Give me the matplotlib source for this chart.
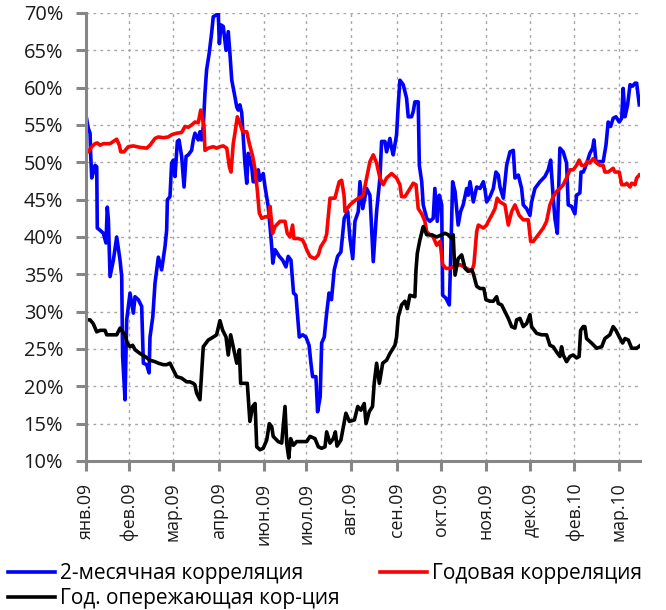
import matplotlib
matplotlib.use("Agg")
import matplotlib.pyplot as plt
from matplotlib.ticker import FuncFormatter

# ---------------- data (x = trading-day index) ----------------
tick_pos = [0, 23, 47, 72, 96, 119, 143, 168, 192, 216, 240, 264, 288]
tick_labels = ["янв.09", "фев.09", "мар.09", "апр.09", "июн.09", "июл.09", "авг.09",
               "сен.09", "окт.09", "ноя.09", "дек.09", "фев.10", "мар.10"]

blue_x = [0, 1.2, 2.2, 2.5, 3.1, 3.9, 4.9, 5.8, 6.1, 7.6, 9.4, 10.8, 11.5, 12.1, 13.0, 14.8,
          16.6, 18.4, 19.3, 19.8, 21.1, 22.0, 23.8, 25.6, 26.5, 28.3, 30.1, 31.0, 32.8, 34.1,
          34.6, 36.1, 37.3, 39.1, 40.9, 42.7, 43.6, 44.0, 45.4, 46.3, 47.2, 48.1, 49.4, 50.3,
          51.7, 53.0, 54.1, 55.3, 57.1, 58.0, 58.9, 60.7, 61.6, 62.5, 63.4, 64.3, 65.2, 66.6,
          67.9, 68.8, 70.3, 71.5, 72.1, 73.0, 74.2, 75.7, 76.9, 77.8, 78.8, 80.5, 81.5, 82.3,
          83.2, 84.2, 85.9, 86.9, 87.7, 89.6, 90.4, 92.3, 93.1, 94.1, 95.8, 96.8, 98.5, 99.5,
          100.4, 101.0, 102.2, 104.5, 106.3, 108.1, 109.3, 110.8, 112.2, 113.5, 115.3, 117.1,
          118.9, 120.6, 121.6, 122.5, 124.3, 125.2, 126.6, 127.4, 128.8, 130.1, 131.4, 132.7,
          134.2, 136.0, 137.8, 139.6, 141.5, 142.7, 144.2, 145.4, 147.2, 148.1, 149.6, 151.7,
          153.5, 155.3, 157.1, 158.9, 159.8, 161.6, 162.5, 164.3, 165.2, 166.1, 167.9, 168.8,
          169.7, 171.5, 173.3, 174.2, 176.0, 176.9, 177.8, 179.6, 180.2, 181.5, 182.3, 184.2,
          185.9, 187.7, 188.6, 189.9, 191.0, 192.3, 192.8, 194.6, 196.4, 197.1, 198.2, 199.5,
          201.2, 202.5, 203.9, 205.8, 206.6, 207.6, 209.4, 211.2, 213.0, 214.8, 215.7, 216.6,
          218.4, 220.2, 221.6, 222.9, 223.8, 225.6, 227.4, 229.2, 231.0, 231.9, 233.7, 235.5,
          236.4, 238.2, 240.0, 240.9, 242.7, 245.4, 248.1, 249.9, 251.2, 252.6, 253.5, 254.8,
          256.2, 258.0, 259.8, 260.7, 262.5, 264.3, 265.2, 267.0, 267.6, 268.8, 269.7, 271.0,
          272.4, 273.9, 274.6, 275.7, 277.8, 279.6, 281.1, 282.3, 283.6, 285.0, 286.5, 288.3,
          289.6, 290.4, 291.4, 292.8, 294.1, 295.5, 296.8, 297.7, 299.1]
blue_y = [56.3, 54.6, 53.9, 51.2, 47.9, 48.6, 49.6, 49.4, 41.2, 40.9, 40.5, 39.2, 44.0, 42.3, 34.7, 36.9,
          40.0, 36.9, 34.7, 24.0, 18.2, 28.9, 32.5, 29.8, 32.0, 31.6, 30.7, 23.1, 22.9, 21.8,
          26.6, 29.3, 33.8, 37.3, 35.6, 38.7, 40.9, 45.0, 45.4, 49.9, 50.3, 48.1, 52.8, 53.0,
          50.8, 46.7, 50.8, 51.0, 51.6, 53.0, 53.9, 53.0, 54.1, 53.0, 54.8, 59.2, 62.4, 64.6,
          67.3, 69.5, 69.7, 70.0, 65.9, 68.4, 68.2, 65.0, 67.5, 64.6, 61.0, 58.8, 57.4, 57.0,
          57.7, 56.6, 49.9, 47.2, 51.2, 49.4, 47.4, 47.4, 49.0, 47.6, 48.5, 46.7, 44.1, 41.4,
          38.7, 36.5, 38.3, 37.4, 36.9, 36.0, 37.4, 36.9, 32.5, 32.2, 26.6, 26.9,
          26.6, 25.5, 23.1, 21.3, 21.3, 16.6, 18.6, 25.8, 26.6, 29.8, 32.5, 31.6,
          35.6, 37.4, 38.0, 42.5, 43.4, 39.8, 37.1, 42.1, 43.4, 47.4, 43.8, 46.5,
          45.6, 36.7, 43.4, 47.9, 52.8, 52.8, 51.4, 53.2, 51.9, 51.0, 53.7, 57.7,
          61.0, 60.4, 58.6, 56.1, 56.1, 56.8, 58.1, 58.1, 49.6, 47.4, 44.3, 42.5,
          42.1, 42.5, 46.5, 42.1, 45.6, 44.3, 32.2, 31.8, 30.9, 36.7, 47.4, 46.1,
          41.6, 43.4, 44.3, 46.5, 45.6, 47.4, 44.7, 46.7, 46.5, 47.4, 46.3, 44.7,
          45.4, 46.5, 48.7, 48.3, 46.7, 45.2, 49.6, 51.4, 51.6, 47.9, 48.3, 46.5,
          44.3, 43.8, 42.9, 44.7, 46.5, 47.4, 48.1, 49.0, 50.3, 45.2, 42.5, 40.5,
          51.9, 51.4, 49.9, 44.3, 44.1, 43.1, 45.6, 45.9, 48.7, 48.7, 49.2, 50.1,
          51.2, 51.9, 53.0, 50.1, 50.1, 50.1, 52.3, 55.4, 54.8, 55.9, 56.1, 55.4,
          55.9, 59.9, 56.1, 57.7, 60.4, 60.2, 60.6, 60.6, 57.7]

red_x = [0, 1.2, 3.1, 4.9, 6.1, 7.6, 9.4, 11.2, 13.0, 14.8, 16.6, 18.0, 18.8, 20.5, 22.9, 25.6,
         29.2, 32.8, 34.6, 37.3, 39.1, 41.8, 44.5, 46.3, 49.0, 51.7, 53.5, 55.3, 57.1, 58.9,
         60.7, 62.0, 63.1, 63.8, 64.3, 66.1, 68.8, 70.6, 72.4, 74.2, 76.1, 77.5, 78.4, 79.6,
         80.5, 81.8, 83.2, 84.7, 86.9, 88.3, 90.1, 91.4, 92.6, 93.7, 95.0, 96.8, 98.5, 99.5,
         100.9, 102.2, 104.9, 107.6, 108.8, 110.3, 111.7, 112.4, 114.8, 117.1, 118.4, 119.3,
         121.1, 123.8, 125.6, 126.9, 129.2, 130.1, 131.9, 134.6, 135.5, 136.9, 138.2, 139.5,
         140.0, 142.7, 144.5, 147.2, 149.0, 149.9, 151.7, 153.5, 155.3, 157.1, 158.9, 160.7,
         162.5, 165.2, 167.9, 169.7, 170.6, 172.4, 174.2, 176.9, 178.4, 179.6, 181.5, 183.2,
         184.2, 185.9, 187.7, 189.6, 191.4, 192.8, 194.6, 196.8, 198.5, 202.2, 205.8, 208.5,
         209.7, 211.2, 212.1, 214.8, 216.6, 217.5, 219.3, 221.1, 222.3, 223.8, 226.5, 228.3,
         230.1, 231.9, 234.2, 236.4, 239.1, 240.4, 241.8, 244.5, 247.2, 249.0, 250.8, 252.6,
         254.4, 256.2, 258.0, 259.8, 261.6, 263.4, 265.2, 266.6, 267.9, 269.7, 271.0, 272.4,
         274.2, 276.1, 277.8, 279.6, 280.5, 282.3, 285.0, 285.9, 288.3, 289.6, 291.4, 292.3,
         294.1, 295.0, 296.8, 297.7, 299.1]
red_y = [51.6, 51.4, 52.1, 52.5, 52.6, 52.3, 52.5, 52.5, 52.5, 52.8, 53.1, 52.3, 51.4, 51.4, 52.1, 52.2,
         52.0, 51.9, 52.3, 53.2, 53.4, 53.3, 53.4, 53.7, 53.9, 54.0, 54.8, 54.7, 55.0, 55.4,
         55.3, 57.0, 55.7, 54.8, 51.6, 51.9, 52.1, 51.9, 52.1, 52.2, 51.9, 49.4, 48.7, 52.5,
         53.9, 56.1, 55.2, 54.1, 54.1, 52.5, 50.8, 49.0, 46.3, 43.2, 42.5, 42.7, 42.7, 44.1,
         40.5, 41.4, 42.1, 42.1, 40.5, 40.0, 41.6, 39.8, 39.8, 39.6, 38.9, 38.3,
         37.4, 37.1, 37.6, 38.7, 39.6, 40.4, 45.2, 45.2, 46.1, 47.4, 47.6, 45.6,
         43.4, 44.3, 44.7, 45.2, 45.4, 45.6, 47.9, 50.1, 51.0, 49.9, 47.9, 47.0,
         47.9, 48.5, 47.9, 47.0, 45.4, 45.4, 46.1, 47.2, 47.0, 43.8, 43.1, 42.1,
         40.7, 40.3, 40.0, 38.9, 39.4, 36.3, 35.8, 35.8, 36.0, 36.3, 35.8, 35.4,
         36.3, 40.7, 41.6, 41.2, 41.6, 42.1, 42.9, 43.8, 45.2, 44.7, 44.3, 41.6,
         43.4, 44.3, 42.9, 42.3, 42.3, 39.4, 39.4, 40.3, 41.2, 42.1, 44.3, 45.4,
         46.1, 46.5, 47.0, 47.9, 49.0, 49.0, 49.6, 50.3, 49.6, 49.6, 50.1, 49.9,
         50.5, 49.9, 49.6, 49.6, 48.7, 48.7, 49.2, 48.7, 48.7, 47.0, 47.0, 47.2,
         46.7, 47.2, 47.0, 47.9, 48.3]

black_x = [0, 2.2, 3.9, 5.8, 7.6, 10.3, 11.2, 13.9, 16.6, 18.4, 19.8, 21.1, 22.3, 23.8, 25.2, 26.5,
           29.2, 31.9, 34.6, 37.3, 39.1, 41.8, 43.6, 45.4, 47.2, 49.0, 51.7, 54.4, 56.2, 58.0,
           58.9, 59.8, 61.6, 62.5, 63.4, 66.1, 68.8, 70.6, 72.4, 73.9, 75.7, 76.9, 78.2, 79.6,
           81.5, 82.9, 83.6, 85.9, 87.2, 88.6, 90.1, 91.4, 92.3, 94.1, 95.8, 97.7, 99.1, 100.4,
           101.2, 103.9, 105.8, 107.6, 108.5, 109.6, 110.6, 112.1, 113.9, 119.3, 121.1, 123.8,
           125.6, 127.4, 129.2, 130.1, 131.9, 133.7, 134.8, 135.7, 137.8, 140.5, 142.4, 145.1,
           146.9, 148.6, 150.4, 151.4, 153.1, 154.9, 155.8, 157.1, 158.6, 160.4, 162.5, 164.3,
           167.0, 167.9, 168.8, 170.6, 172.4, 173.7, 175.1, 177.8, 178.4, 179.1, 180.5, 182.3,
           184.2, 186.9, 189.6, 192.3, 194.1, 195.8, 197.7, 198.5, 199.5, 201.2, 203.1, 204.9,
           206.6, 208.5, 209.4, 211.2, 213.0, 215.1, 216.2, 218.4, 220.2, 222.0, 222.9, 224.7,
           226.5, 228.3, 230.1, 231.9, 232.8, 234.6, 236.4, 238.2, 240.0, 240.9, 243.6, 246.3,
           249.0, 250.8, 252.6, 254.4, 256.2, 257.1, 258.0, 259.8, 261.6, 263.4, 265.2, 266.6,
           267.4, 268.8, 269.7, 270.6, 273.3, 276.1, 278.8, 280.5, 283.2, 285.0, 286.5, 288.3,
           290.1, 291.4, 293.2, 295.0, 297.7, 299.3]
black_y = [28.9, 28.9, 28.4, 27.3, 27.5, 27.5, 26.9, 26.9, 26.9, 27.8, 27.3, 26.9, 25.8, 25.3, 25.5, 24.9,
           24.4, 24.0, 23.5, 23.3, 23.1, 22.9, 22.9, 23.1, 22.2, 21.3, 21.1, 20.6, 20.6, 20.4,
           20.2, 19.1, 18.2, 21.7, 25.3, 26.2, 26.6, 26.9, 28.8, 27.5, 26.6, 24.2, 26.9, 25.3,
           23.1, 24.9, 20.4, 20.4, 20.4, 15.3, 17.3, 17.7, 11.9, 11.5, 11.7, 12.8, 15.0, 14.6,
           13.3, 12.6, 12.4, 17.3, 12.4, 10.4, 13.0, 12.1, 12.6, 12.6, 13.3, 13.0,
           11.9, 11.7, 11.9, 13.9, 12.4, 13.0, 13.9, 12.0, 12.8, 16.4, 15.3, 15.5,
           17.3, 16.8, 17.7, 15.0, 16.6, 17.3, 20.4, 23.1, 20.4, 23.1, 23.5, 24.4,
           25.5, 26.6, 29.3, 30.9, 31.4, 30.4, 32.2, 32.0, 35.6, 37.8, 39.6, 41.4,
           40.3, 40.3, 40.0, 40.3, 40.5, 40.3, 39.8, 40.3, 34.9, 37.1, 37.6, 35.8,
           35.4, 35.6, 35.1, 33.4, 33.1, 33.1, 31.6, 31.4, 31.4, 32.0, 31.1, 30.9,
           30.0, 29.1, 28.0, 27.8, 28.9, 29.1, 28.0, 28.4, 29.6, 28.0, 27.1, 26.9,
           26.9, 25.5, 25.3, 24.6, 24.0, 25.3, 24.2, 23.3, 24.0, 24.2, 23.8, 24.0,
           27.5, 28.0, 28.0, 26.4, 25.8, 25.1, 25.3, 26.4, 26.9, 28.0, 27.5, 26.6,
           25.8, 26.4, 26.2, 25.1, 25.1, 25.4]

labels = ["2-месячная корреляция", "Годовая корреляция", "Год. опережающая кор-ция"]

# ---------------- figure ----------------
plt.rcParams['font.family'] = ['Open Sans', 'DejaVu Sans']
fig = plt.figure(figsize=(6.66, 6.10), dpi=100)
ax = fig.add_axes([86/666, 1-461/610, (640-86)/666, (461-13)/610])

lw = 2.6
l1, = ax.plot(blue_x, blue_y, color='#0000FF', lw=lw, label=labels[0], solid_joinstyle='round')
l2, = ax.plot(red_x, red_y, color='#FF0000', lw=lw, label=labels[1], solid_joinstyle='round')
l3, = ax.plot(black_x, black_y, color='#000000', lw=lw, label=labels[2], solid_joinstyle='round')

ax.set_xlim(0, 299.5)
ax.set_ylim(10, 70)
ax.set_yticks(range(10, 71, 5))
ax.yaxis.set_major_formatter(FuncFormatter(lambda v, p: f"{int(v)}%"))
ax.set_xticks(tick_pos)
ax.set_xticklabels(tick_labels, rotation=90)

ax.grid(True, color='#A6A6A6', linestyle=(0, (2, 3)), linewidth=1.0)
ax.set_axisbelow(True)
for s in ['top', 'right']:
    ax.spines[s].set_visible(False)
for s in ['left', 'bottom']:
    ax.spines[s].set_color('#868686')
    ax.spines[s].set_linewidth(2.2)
ax.tick_params(axis='both', colors='#868686', width=2.2, length=7, labelcolor='#1a1a1a')
ax.tick_params(axis='y', pad=9.5, labelsize=14.4)
ax.tick_params(axis='x', pad=8.5, labelsize=12.8)

leg_kw = dict(frameon=False, loc='upper left', fontsize=15, handlelength=2.26,
              handletextpad=0.25, labelspacing=0.2, borderaxespad=0, borderpad=0)
fig.legend([l1, l3], [labels[0], labels[2]], bbox_to_anchor=(8/666, 1-563/610), **leg_kw)
fig.legend([l2], [labels[1]], bbox_to_anchor=(380/666, 1-563/610), **leg_kw)

fig.savefig("out.png", dpi=100)
